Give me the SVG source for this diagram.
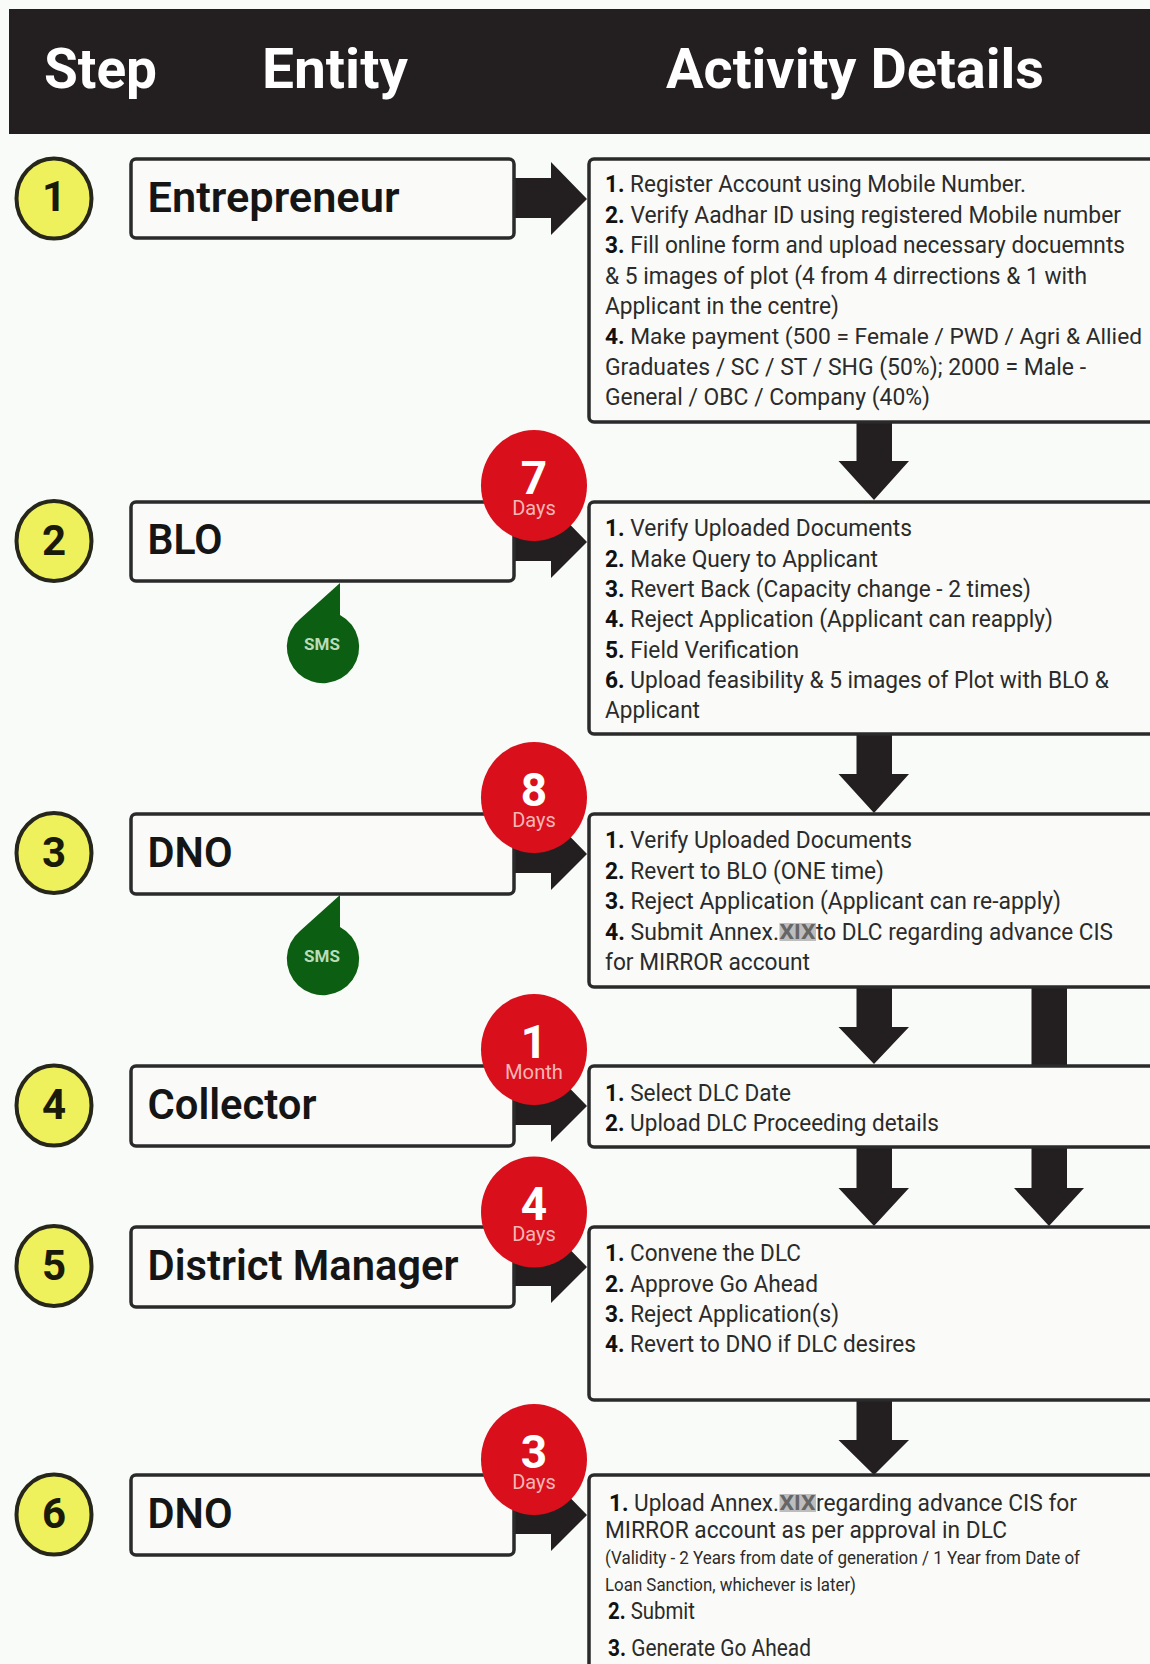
<svg xmlns="http://www.w3.org/2000/svg" width="1150" height="1664" viewBox="0 0 1150 1664">
<style>
text{font-family:Roboto,"Liberation Sans",sans-serif}
.head{font-size:56px;font-weight:700;fill:#fff}
.ent{font-size:43px;font-weight:600;fill:#151515}
.box{fill:#fafbf9;stroke:#2a2a2a;stroke-width:3.500}
.num{font-size:42px;font-weight:700;fill:#1a1a0a;text-anchor:middle}
.step{fill:#eef05c;stroke:#26261a;stroke-width:4}
.l{font-size:23.500px;fill:#2b2b2b}
.s{font-size:19px;fill:#2b2b2b}
.n{font-weight:700;fill:#111}
.red{fill:#da0f1c}
.big{font-size:46px;font-weight:700;fill:#fff;text-anchor:middle}
.sub{font-size:20px;fill:#f6b6b6;text-anchor:middle}
.drop{fill:#0c5f12}
.sms{font-size:17px;font-weight:700;fill:#b9dcb9;text-anchor:middle}
.arr{fill:#231f20}
.mask{fill:#bdbdbd}
.mt{font-size:21px;font-weight:700;fill:#666;text-anchor:middle}
</style>
<rect width="1150" height="1664" fill="#f9fbf8"/>
<g id="header">
<rect x="9" y="9" width="1141" height="125" fill="#231f20"/>
<text class="head" x="44" y="88" textLength="113" lengthAdjust="spacingAndGlyphs">Step</text>
<text class="head" x="262" y="88" textLength="146" lengthAdjust="spacingAndGlyphs">Entity</text>
<text class="head" x="666" y="88" textLength="378" lengthAdjust="spacingAndGlyphs">Activity Details</text>
</g>
<g id="connectors">
<path class="arr" d="M514 178H551V162L587 199L551 235V218H514Z"/>
<path class="arr" d="M514 521H551V505L587 542L551 578V561H514Z"/>
<path class="arr" d="M514 833H551V817L587 854L551 890V873H514Z"/>
<path class="arr" d="M514 1085H551V1069L587 1106L551 1142V1125H514Z"/>
<path class="arr" d="M514 1246H551V1230L587 1267L551 1303V1286H514Z"/>
<path class="arr" d="M514 1494H551V1478L587 1515L551 1551V1534H514Z"/>
<path class="arr" d="M856.500 420H892V461H909L874 500L838.500 461H856.500Z"/>
<path class="arr" d="M856.500 732H892V774H909L874 813L838.500 774H856.500Z"/>
<path class="arr" d="M856.500 985H892V1027H909L874 1064L838.500 1027H856.500Z"/>
<rect class="arr" x="1031.500" y="985" width="35.500" height="81"/>
<path class="arr" d="M856.500 1145H892V1188H909L874 1226L838.500 1188H856.500Z"/>
<path class="arr" d="M1031.500 1145H1067V1188H1084L1049 1226L1014 1188H1031.500Z"/>
<path class="arr" d="M856.500 1398H892V1440H909L874 1475L838.500 1440H856.500Z"/>
</g>
<g id="step1"><ellipse class="step" cx="54" cy="198.500" rx="37.500" ry="40"/><text class="num" x="54" y="211">1</text></g>
<g id="step2"><ellipse class="step" cx="54" cy="541" rx="37.500" ry="40"/><text class="num" x="54" y="555">2</text></g>
<g id="step3"><ellipse class="step" cx="54" cy="853" rx="37.500" ry="40"/><text class="num" x="54" y="867">3</text></g>
<g id="step4"><ellipse class="step" cx="54" cy="1105.500" rx="37.500" ry="40"/><text class="num" x="54" y="1119">4</text></g>
<g id="step5"><ellipse class="step" cx="54" cy="1266" rx="37.500" ry="40"/><text class="num" x="54" y="1280">5</text></g>
<g id="step6"><ellipse class="step" cx="54" cy="1514.500" rx="37.500" ry="40"/><text class="num" x="54" y="1528">6</text></g>
<g id="entity1"><rect class="box" x="131" y="159" width="383" height="79" rx="5"/><text class="ent" x="147.500" y="212" textLength="252" lengthAdjust="spacingAndGlyphs">Entrepreneur</text></g>
<g id="entity2"><rect class="box" x="131" y="502" width="383" height="79" rx="5"/><text class="ent" x="147.500" y="554" textLength="75" lengthAdjust="spacingAndGlyphs">BLO</text></g>
<g id="entity3"><rect class="box" x="131" y="814" width="383" height="80" rx="5"/><text class="ent" x="147.500" y="867" textLength="85" lengthAdjust="spacingAndGlyphs">DNO</text></g>
<g id="entity4"><rect class="box" x="131" y="1066" width="383" height="80" rx="5"/><text class="ent" x="147.500" y="1119" textLength="169" lengthAdjust="spacingAndGlyphs">Collector</text></g>
<g id="entity5"><rect class="box" x="131" y="1227" width="383" height="80" rx="5"/><text class="ent" x="147.500" y="1280" textLength="311" lengthAdjust="spacingAndGlyphs">District Manager</text></g>
<g id="entity6"><rect class="box" x="131" y="1475" width="383" height="80" rx="5"/><text class="ent" x="147.500" y="1528" textLength="85" lengthAdjust="spacingAndGlyphs">DNO</text></g>
<g id="details1"><rect class="box" x="589" y="159" width="600" height="263" rx="5"/>
<text class="l" x="605" y="192" textLength="421" lengthAdjust="spacingAndGlyphs"><tspan class="n">1.</tspan> Register Account using Mobile Number.</text>
<text class="l" x="605" y="223" textLength="516" lengthAdjust="spacingAndGlyphs"><tspan class="n">2.</tspan> Verify Aadhar ID using registered Mobile number</text>
<text class="l" x="605" y="253" textLength="520" lengthAdjust="spacingAndGlyphs"><tspan class="n">3.</tspan> Fill online form and upload necessary docuemnts</text>
<text class="l" x="605" y="284" textLength="482" lengthAdjust="spacingAndGlyphs">&amp; 5 images of plot (4 from 4 dirrections &amp; 1 with</text>
<text class="l" x="605" y="314" textLength="234" lengthAdjust="spacingAndGlyphs">Applicant in the centre)</text>
<text class="l" x="605" y="344" textLength="537" lengthAdjust="spacingAndGlyphs" style="font-size:22.500px"><tspan class="n">4.</tspan> Make payment (500 = Female / PWD / Agri &amp; Allied</text>
<text class="l" x="605" y="375" textLength="481" lengthAdjust="spacingAndGlyphs">Graduates / SC / ST / SHG (50%); 2000 = Male -</text>
<text class="l" x="605" y="405" textLength="325" lengthAdjust="spacingAndGlyphs">General / OBC / Company (40%)</text></g>
<g id="details2"><rect class="box" x="589" y="502" width="600" height="232" rx="5"/>
<text class="l" x="605" y="536" textLength="307" lengthAdjust="spacingAndGlyphs"><tspan class="n">1.</tspan> Verify Uploaded Documents</text>
<text class="l" x="605" y="567" textLength="273" lengthAdjust="spacingAndGlyphs"><tspan class="n">2.</tspan> Make Query to Applicant</text>
<text class="l" x="605" y="597" textLength="426" lengthAdjust="spacingAndGlyphs"><tspan class="n">3.</tspan> Revert Back (Capacity change - 2 times)</text>
<text class="l" x="605" y="627" textLength="448" lengthAdjust="spacingAndGlyphs"><tspan class="n">4.</tspan> Reject Application (Applicant can reapply)</text>
<text class="l" x="605" y="658" textLength="194" lengthAdjust="spacingAndGlyphs"><tspan class="n">5.</tspan> Field Verification</text>
<text class="l" x="605" y="688" textLength="504" lengthAdjust="spacingAndGlyphs"><tspan class="n">6.</tspan> Upload feasibility &amp; 5 images of Plot with BLO &amp;</text>
<text class="l" x="605" y="718" textLength="95" lengthAdjust="spacingAndGlyphs">Applicant</text></g>
<g id="details3"><rect class="box" x="589" y="814" width="600" height="173" rx="5"/>
<text class="l" x="605" y="848" textLength="307" lengthAdjust="spacingAndGlyphs"><tspan class="n">1.</tspan> Verify Uploaded Documents</text>
<text class="l" x="605" y="879" textLength="279" lengthAdjust="spacingAndGlyphs"><tspan class="n">2.</tspan> Revert to BLO (ONE time)</text>
<text class="l" x="605" y="909" textLength="456" lengthAdjust="spacingAndGlyphs"><tspan class="n">3.</tspan> Reject Application (Applicant can re-apply)</text>
<text class="l" x="605" y="940" textLength="174" lengthAdjust="spacingAndGlyphs"><tspan class="n">4.</tspan> Submit Annex.</text>
<rect class="mask" x="779.500" y="923" width="36.500" height="18"/><text class="mt" x="797.500" y="939" textLength="36" lengthAdjust="spacingAndGlyphs">XIX</text>
<text class="l" x="816" y="940" textLength="297" lengthAdjust="spacingAndGlyphs">to DLC regarding advance CIS</text>
<text class="l" x="605" y="970" textLength="205" lengthAdjust="spacingAndGlyphs">for MIRROR account</text></g>
<g id="details4"><rect class="box" x="589" y="1066" width="600" height="81" rx="5"/>
<text class="l" x="605" y="1101" textLength="186" lengthAdjust="spacingAndGlyphs"><tspan class="n">1.</tspan> Select DLC Date</text>
<text class="l" x="605" y="1131" textLength="334" lengthAdjust="spacingAndGlyphs"><tspan class="n">2.</tspan> Upload DLC Proceeding details</text></g>
<g id="details5"><rect class="box" x="589" y="1227" width="600" height="173" rx="5"/>
<text class="l" x="605" y="1261" textLength="196" lengthAdjust="spacingAndGlyphs"><tspan class="n">1.</tspan> Convene the DLC</text>
<text class="l" x="605" y="1292" textLength="213" lengthAdjust="spacingAndGlyphs"><tspan class="n">2.</tspan> Approve Go Ahead</text>
<text class="l" x="605" y="1322" textLength="234" lengthAdjust="spacingAndGlyphs"><tspan class="n">3.</tspan> Reject Application(s)</text>
<text class="l" x="605" y="1352" textLength="311" lengthAdjust="spacingAndGlyphs"><tspan class="n">4.</tspan> Revert to DNO if DLC desires</text></g>
<g id="details6"><rect class="box" x="589" y="1475" width="600" height="240" rx="5"/>
<text class="l" x="609" y="1511" textLength="170" lengthAdjust="spacingAndGlyphs"><tspan class="n">1.</tspan> Upload Annex.</text>
<rect class="mask" x="779.500" y="1494" width="36.500" height="18"/><text class="mt" x="797.500" y="1510" textLength="36" lengthAdjust="spacingAndGlyphs">XIX</text>
<text class="l" x="816" y="1511" textLength="261" lengthAdjust="spacingAndGlyphs">regarding advance CIS for</text>
<text class="l" x="605" y="1538" textLength="402" lengthAdjust="spacingAndGlyphs">MIRROR account as per approval in DLC</text>
<text class="s" x="605" y="1564" textLength="475" lengthAdjust="spacingAndGlyphs">(Validity - 2 Years from date of generation / 1 Year from Date of</text>
<text class="s" x="605" y="1591" textLength="251" lengthAdjust="spacingAndGlyphs">Loan Sanction, whichever is later)</text>
<text class="l" x="608" y="1619" textLength="87" lengthAdjust="spacingAndGlyphs"><tspan class="n">2.</tspan> Submit</text>
<text class="l" x="608" y="1656" textLength="203" lengthAdjust="spacingAndGlyphs"><tspan class="n">3.</tspan> Generate Go Ahead</text></g>
<g id="time7"><ellipse class="red" cx="534" cy="485.500" rx="53" ry="55.500"/><text class="big" x="534" y="494">7</text><text class="sub" x="534" y="515">Days</text></g>
<g id="time8"><ellipse class="red" cx="534" cy="797.500" rx="53" ry="55.500"/><text class="big" x="534" y="806">8</text><text class="sub" x="534" y="827">Days</text></g>
<g id="time1m"><ellipse class="red" cx="534" cy="1049.500" rx="53" ry="55.500"/><text class="big" x="534" y="1058">1</text><text class="sub" x="534" y="1079" textLength="58" lengthAdjust="spacingAndGlyphs">Month</text></g>
<g id="time4"><ellipse class="red" cx="534" cy="1212" rx="53" ry="55.500"/><text class="big" x="534" y="1220">4</text><text class="sub" x="534" y="1241">Days</text></g>
<g id="time3"><ellipse class="red" cx="534" cy="1459.500" rx="53" ry="55.500"/><text class="big" x="534" y="1468">3</text><text class="sub" x="534" y="1489">Days</text></g>
<g id="sms1"><path class="drop" d="M340 583V615A36.200 36.200 0 1 1 300 619Z"/><text class="sms" x="322" y="650">SMS</text></g>
<g id="sms2"><path class="drop" d="M340 895V927A36.200 36.200 0 1 1 300 931Z"/><text class="sms" x="322" y="962">SMS</text></g>
</svg>
